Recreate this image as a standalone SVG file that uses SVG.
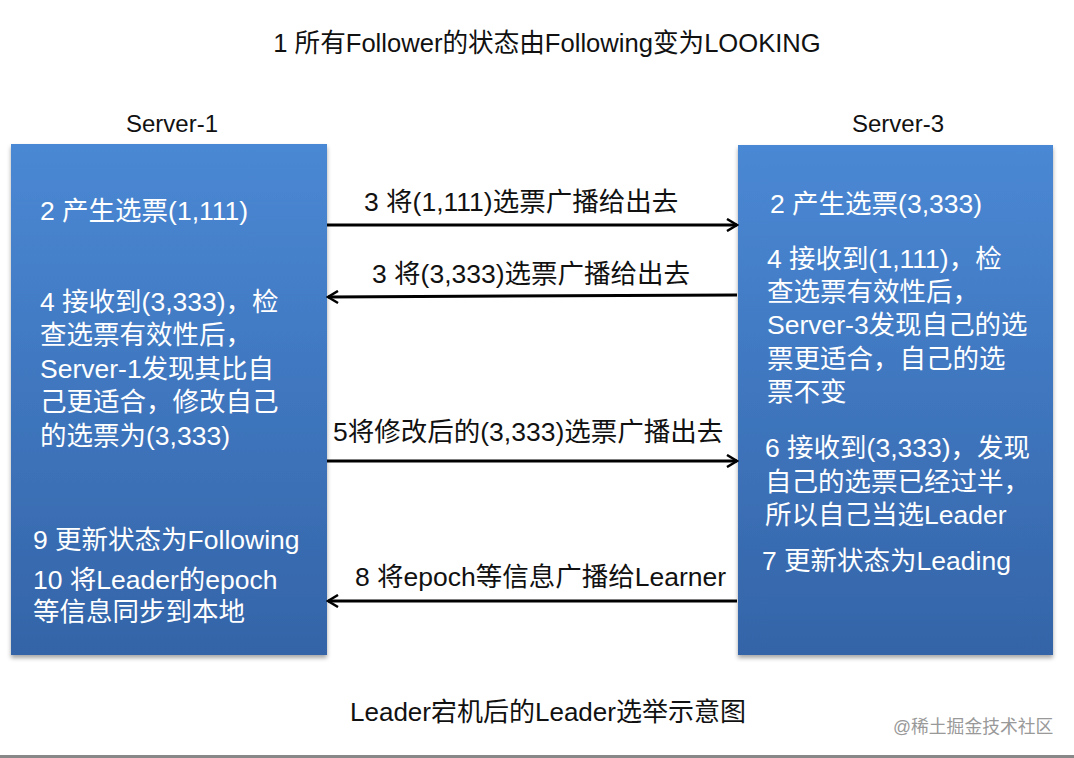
<svg xmlns="http://www.w3.org/2000/svg" width="1074" height="758" viewBox="0 0 1074 758">
<defs>
<linearGradient id="boxg" x1="0" y1="0" x2="0" y2="1">
<stop offset="0" stop-color="#4a88d4"/>
<stop offset="1" stop-color="#3464a8"/>
</linearGradient>
<filter id="sh" x="-5%" y="-5%" width="110%" height="110%">
<feDropShadow dx="0" dy="3" stdDeviation="2" flood-color="#000" flood-opacity="0.35"/>
</filter>
<marker id="ah" markerWidth="14" markerHeight="14" refX="12" refY="7" orient="auto" markerUnits="userSpaceOnUse">
<path d="M2,1 L12,7 L2,13" fill="none" stroke="#000" stroke-width="2.5"/>
</marker>
</defs>
<style>
text{font-family:"Liberation Sans","Noto Sans CJK SC",sans-serif;}
.t{font-size:26.5px;fill:#111;}
.h{font-size:24px;fill:#111;}
.w{font-size:26.5px;fill:#fff;}
.c{stroke:#000;stroke-width:3;fill:none;marker-end:url(#ah);}
</style>
<rect width="1074" height="758" fill="#fff"/>
<text class="h" x="547" y="52" text-anchor="middle" style="font-size:25.6px">1 所有Follower的状态由Following变为LOOKING</text>
<g id="server1">
<text class="h" x="172" y="132" text-anchor="middle">Server-1</text>
<rect x="11" y="144" width="316" height="511" fill="url(#boxg)" filter="url(#sh)"/>
<text class="w" x="40" y="220">2 产生选票(1,111)</text>
<text class="w" x="40" y="311">4 接收到(3,333)，检</text>
<text class="w" x="40" y="344">查选票有效性后，</text>
<text class="w" x="40" y="378">Server-1发现其比自</text>
<text class="w" x="40" y="411">己更适合，修改自己</text>
<text class="w" x="40" y="445">的选票为(3,333)</text>
<text class="w" x="33" y="549">9 更新状态为Following</text>
<text class="w" x="33" y="589">10 将Leader的epoch</text>
<text class="w" x="33" y="621">等信息同步到本地</text>
</g>
<g id="server3">
<text class="h" x="898" y="132" text-anchor="middle">Server-3</text>
<rect x="738" y="145" width="315" height="510" fill="url(#boxg)" filter="url(#sh)"/>
<text class="w" x="770" y="213">2 产生选票(3,333)</text>
<text class="w" x="767" y="268">4 接收到(1,111)，检</text>
<text class="w" x="767" y="301">查选票有效性后，</text>
<text class="w" x="767" y="334">Server-3发现自己的选</text>
<text class="w" x="767" y="368">票更适合，自己的选</text>
<text class="w" x="767" y="401">票不变</text>
<text class="w" x="765" y="457">6 接收到(3,333)，发现</text>
<text class="w" x="765" y="491">自己的选票已经过半，</text>
<text class="w" x="765" y="524">所以自己当选Leader</text>
<text class="w" x="762" y="570">7 更新状态为Leading</text>
</g>
<g id="connectors">
<line class="c" x1="327" y1="225" x2="737" y2="225"/>
<line class="c" x1="737" y1="295" x2="328" y2="297"/>
<line class="c" x1="327" y1="461" x2="737" y2="461"/>
<line class="c" x1="737" y1="601" x2="328" y2="601"/>
<text class="t" x="364" y="211">3 将(1,111)选票广播给出去</text>
<text class="t" x="372" y="283">3 将(3,333)选票广播给出去</text>
<text class="t" x="333" y="441">5将修改后的(3,333)选票广播出去</text>
<text class="t" x="355" y="586">8 将epoch等信息广播给Learner</text>
</g>
<text class="t" x="548" y="721" text-anchor="middle" style="font-size:26px">Leader宕机后的Leader选举示意图</text>
<text x="893" y="733" font-size="17.8" fill="#999">@稀土掘金技术社区</text>
<rect x="0" y="755" width="1074" height="3" fill="#888"/>
</svg>
